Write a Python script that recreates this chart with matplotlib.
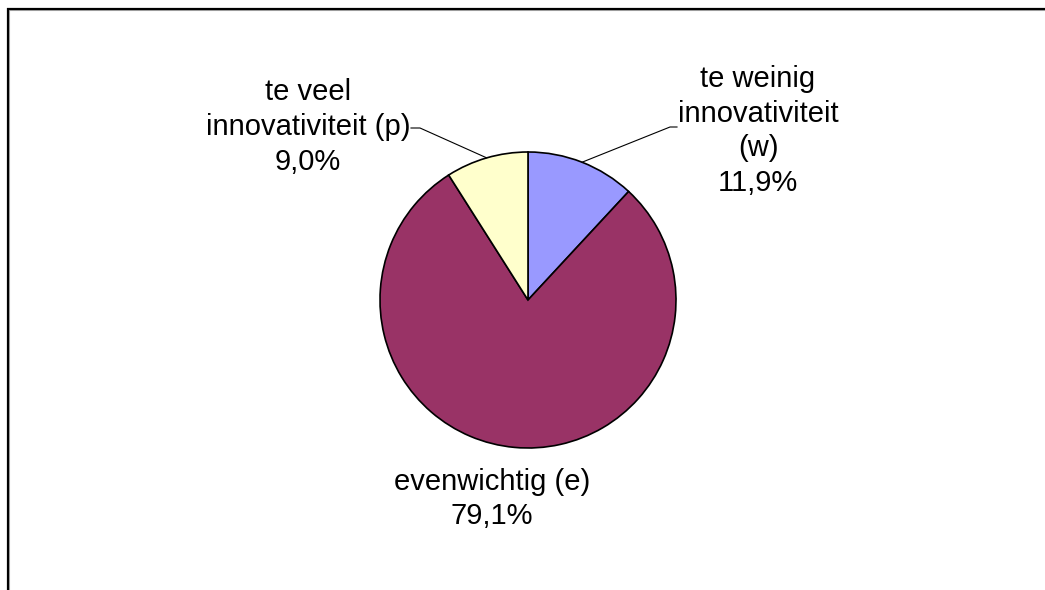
import numpy as np
import matplotlib
matplotlib.use("Agg")
import matplotlib.pyplot as plt

# slices, clockwise from 12 o'clock
labels = ["te weinig\ninnovativiteit\n(w)", "evenwichtig (e)", "te veel\ninnovativiteit (p)"]
values = [11.9, 79.1, 9.0]
colors = ["#9999FF", "#993366", "#FFFFCC"]

W, H = 1045, 590
fig = plt.figure(figsize=(W / 100, H / 100), dpi=100)
ax = fig.add_axes([0, 0, 1, 1])
ax.set_xlim(0, W)
ax.set_ylim(0, H)
ax.set_aspect("equal")
ax.axis("off")

cx, cy, r = 528, 590 - 300, 148
wedges, _ = ax.pie(values, colors=colors, startangle=90, counterclock=False,
                   center=(cx, cy), radius=r, frame=True,
                   wedgeprops=dict(edgecolor="black", linewidth=1.2))
ax.set_xlim(0, W)
ax.set_ylim(0, H)
ax.axis("off")

font = dict(family=["Liberation Sans", "DejaVu Sans"], fontsize=21, ha="center",
            va="center", linespacing=1.3)

def pct(v):
    return f"{v:.1f}".replace(".", ",") + "%"

def edge_point(w):
    a = np.deg2rad((w.theta1 + w.theta2) / 2)
    return cx + r * np.cos(a), cy + r * np.sin(a)

# w label (right top)
ax.text(758, 590 - 131, labels[0] + "\n" + pct(values[0]), **font)
ex, ey = edge_point(wedges[0])
ax.plot([ex, 670, 677], [ey, 590 - 127, 590 - 127], color="black", lw=0.8)

# p label (left top)
ax.text(308, 590 - 127, labels[2] + "\n" + pct(values[2]), **font)
ex, ey = edge_point(wedges[2])
ax.plot([ex, 420, 411], [ey, 590 - 128, 590 - 128], color="black", lw=0.8)

# e label (bottom)
ax.text(492, 590 - 499, labels[1] + "\n" + pct(values[1]), **font)

# chart area border: only top and left edges visible
ax.plot([9, 9], [0, 590 - 9], color="#b0b0b0", lw=1.5, solid_capstyle="butt")
ax.plot([9, W], [590 - 10, 590 - 10], color="#b0b0b0", lw=1.5, solid_capstyle="butt")
ax.plot([8, 8], [0, 590 - 8], color="black", lw=1.6, solid_capstyle="butt")
ax.plot([7, W], [590 - 9, 590 - 9], color="black", lw=1.6, solid_capstyle="butt")

fig.savefig("out.png", dpi=100, facecolor="white")
